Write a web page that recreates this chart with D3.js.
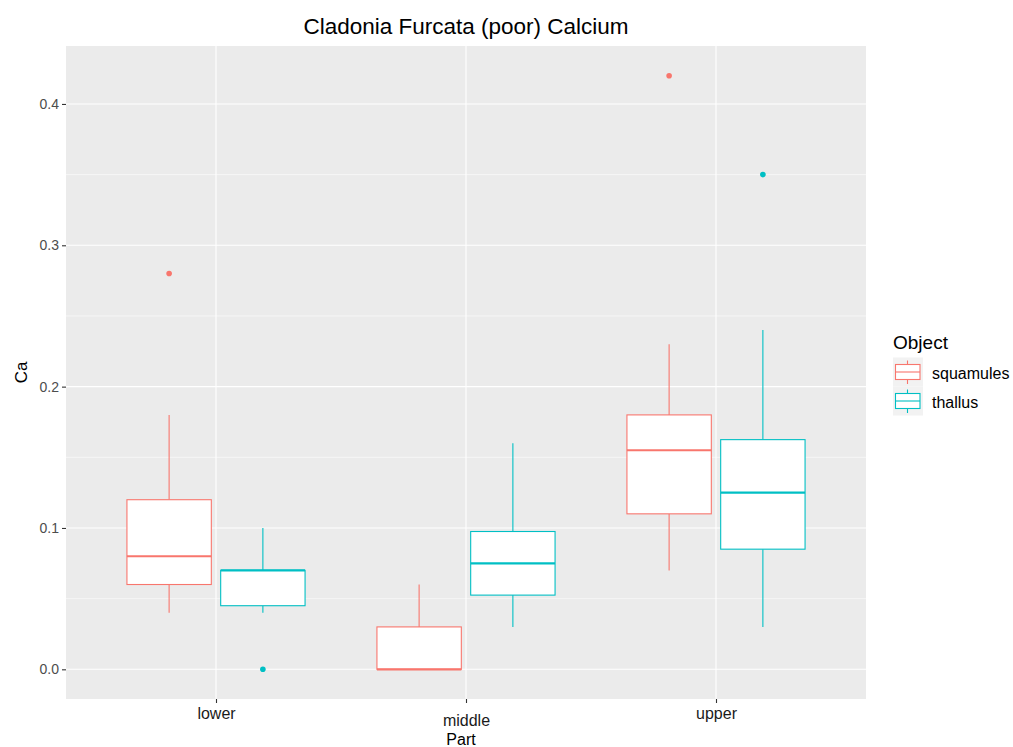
<!DOCTYPE html>
<html lang="en">
<meta charset="utf-8">
<title>Cladonia Furcata (poor) Calcium</title>
<head>
  <style>
    body { margin: 0; background: #fff; }
    text { font-family: "Liberation Sans", Arial, sans-serif; }
  </style>
</head>
<body>
  <script src="https://d3js.org/d3.v7.min.js"></script>
  <div id="chart"></div>
  <script>
    // categories
    var parts = ["lower", "middle", "upper"];
    var objects = ["squamules", "thallus"];
    var colors = ["#F8766D", "#00BFC4"];

    // box statistics per part
    var squamulesLow  = [0.04, 0.00, 0.07];
    var squamulesQ1   = [0.06, 0.00, 0.11];
    var squamulesMed  = [0.08, 0.00, 0.155];
    var squamulesQ3   = [0.12, 0.03, 0.18];
    var squamulesHigh = [0.18, 0.06, 0.23];
    var squamulesOut  = [[0.28], [], [0.42]];

    var thallusLow  = [0.04, 0.03, 0.03];
    var thallusQ1   = [0.045, 0.0525, 0.085];
    var thallusMed  = [0.07, 0.075, 0.125];
    var thallusQ3   = [0.07, 0.0975, 0.1625];
    var thallusHigh = [0.10, 0.16, 0.24];
    var thallusOut  = [[0.0], [], [0.35]];

    var yTicks = [0.0, 0.1, 0.2, 0.3, 0.4];
    var yMinor = [0.05, 0.15, 0.25, 0.35];

    var stats = [
      { low: squamulesLow, q1: squamulesQ1, med: squamulesMed, q3: squamulesQ3, high: squamulesHigh, out: squamulesOut },
      { low: thallusLow, q1: thallusQ1, med: thallusMed, q3: thallusQ3, high: thallusHigh, out: thallusOut }
    ];

    var boxes = [];
    objects.forEach(function (o, j) {
      parts.forEach(function (p, i) {
        var s = stats[j];
        boxes.push({ part: p, object: o, color: colors[j],
          low: s.low[i], q1: s.q1[i], med: s.med[i], q3: s.q3[i], high: s.high[i], out: s.out[i] });
      });
    });

    var W = 1013, H = 747;
    var panel = { left: 66, right: 866, top: 46, bottom: 699 };

    var svg = d3.select("#chart").append("svg")
      .attr("width", W).attr("height", H);

    // scales
    var x = d3.scalePoint().domain(parts).range([panel.left, panel.right]).padding(0.6);
    var half = x.step() * 0.375;
    var xSub = d3.scaleBand().domain(objects).range([-half, half])
      .paddingInner(0.1).paddingOuter(0.05);
    var y = d3.scaleLinear().domain([-0.021, 0.441]).range([panel.bottom, panel.top]);

    // panel background + grid
    svg.append("rect")
      .attr("x", panel.left).attr("y", panel.top)
      .attr("width", panel.right - panel.left).attr("height", panel.bottom - panel.top)
      .attr("fill", "#EBEBEB");

    svg.append("g").selectAll("line").data(yMinor).join("line")
      .attr("x1", panel.left).attr("x2", panel.right)
      .attr("y1", d => y(d)).attr("y2", d => y(d))
      .attr("stroke", "#fff").attr("stroke-width", 0.55);

    svg.append("g").selectAll("line").data(yTicks).join("line")
      .attr("x1", panel.left).attr("x2", panel.right)
      .attr("y1", d => y(d)).attr("y2", d => y(d))
      .attr("stroke", "#fff").attr("stroke-width", 1.1);

    svg.append("g").selectAll("line").data(parts).join("line")
      .attr("x1", d => x(d)).attr("x2", d => x(d))
      .attr("y1", panel.top).attr("y2", panel.bottom)
      .attr("stroke", "#fff").attr("stroke-width", 1.1);

    // boxes
    var g = svg.append("g").selectAll("g").data(boxes).join("g")
      .attr("transform", d => "translate(" + (x(d.part) + xSub(d.object)) + ",0)");
    var bw = xSub.bandwidth();

    g.append("line")
      .attr("x1", bw / 2).attr("x2", bw / 2)
      .attr("y1", d => y(d.high)).attr("y2", d => y(d.q3))
      .attr("stroke", d => d.color).attr("stroke-width", 1.1);
    g.append("line")
      .attr("x1", bw / 2).attr("x2", bw / 2)
      .attr("y1", d => y(d.q1)).attr("y2", d => y(d.low))
      .attr("stroke", d => d.color).attr("stroke-width", 1.1);
    g.append("rect")
      .attr("x", 0).attr("width", bw)
      .attr("y", d => y(d.q3)).attr("height", d => y(d.q1) - y(d.q3))
      .attr("fill", "#fff").attr("stroke", d => d.color).attr("stroke-width", 1.1);
    g.append("line")
      .attr("x1", 0).attr("x2", bw)
      .attr("y1", d => y(d.med)).attr("y2", d => y(d.med))
      .attr("stroke", d => d.color).attr("stroke-width", 2.2);
    g.selectAll("circle").data(d => d.out.map(v => ({ v: v, color: d.color }))).join("circle")
      .attr("cx", bw / 2).attr("cy", d => y(d.v)).attr("r", 2.8)
      .attr("fill", d => d.color);

    // axes
    var yAxis = svg.append("g")
      .attr("transform", "translate(" + panel.left + ",0)")
      .call(d3.axisLeft(y).tickValues(yTicks).tickFormat(d3.format(".1f")).tickSize(4).tickPadding(3));
    var xAxis = svg.append("g")
      .attr("transform", "translate(0," + panel.bottom + ")")
      .call(d3.axisBottom(x).tickSize(4).tickPadding(3));
    [yAxis, xAxis].forEach(function (a) {
      a.select(".domain").remove();
      a.selectAll(".tick line").attr("stroke", "#333").attr("stroke-width", 1.1);
      a.selectAll(".tick text").attr("fill", "#4D4D4D")
        .style("font-family", "'Liberation Sans', Arial, sans-serif").style("font-size", "14px");
    });
    xAxis.selectAll(".tick text").attr("fill", "#1a1a1a").style("font-size", "16px")
      .attr("dy", d => d === "middle" ? "1.25em" : "0.8em");

    // titles
    svg.append("text")
      .attr("x", (panel.left + panel.right) / 2).attr("y", 34)
      .attr("text-anchor", "middle").style("font-size", "22.5px")
      .text("Cladonia Furcata (poor) Calcium");
    svg.append("text")
      .attr("x", 461).attr("y", 745)
      .attr("text-anchor", "middle").style("font-size", "16px")
      .text("Part");
    svg.append("text")
      .attr("transform", "translate(27," + ((panel.top + panel.bottom) / 2) + ") rotate(-90)")
      .attr("text-anchor", "middle").style("font-size", "17px")
      .text("Ca");

    // legend
    var leg = svg.append("g").attr("transform", "translate(893,0)");
    leg.append("text").attr("x", 0).attr("y", 349).style("font-size", "19px").text("Object");
    var keySize = 29;
    var items = leg.selectAll("g.key").data(objects).join("g").attr("class", "key")
      .attr("transform", (d, i) => "translate(0," + (357.5 + i * keySize) + ")");
    items.append("rect").attr("width", keySize + 1).attr("height", keySize).attr("fill", "#F2F2F2");
    items.append("line").attr("x1", 14.5).attr("x2", 14.5)
      .attr("y1", 3).attr("y2", 26.5).attr("stroke", (d, i) => colors[i]).attr("stroke-width", 1.1);
    items.append("rect").attr("x", 2.5).attr("y", 7).attr("width", 24.5).attr("height", 15)
      .attr("fill", "#fff").attr("stroke", (d, i) => colors[i]).attr("stroke-width", 1.1);
    items.append("line").attr("x1", 2.5).attr("x2", 27).attr("y1", 14.5).attr("y2", 14.5)
      .attr("stroke", (d, i) => colors[i]).attr("stroke-width", 1.1);
    items.append("text").attr("x", keySize + 10).attr("y", 21.5).style("font-size", "16px")
      .text(d => d);
  </script>
</body>
</html>
